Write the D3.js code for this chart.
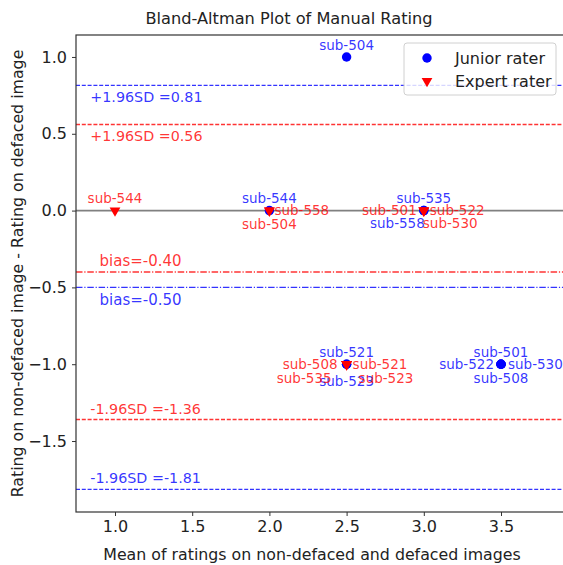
<!DOCTYPE html>
<html>
<head>
<meta charset="utf-8">
<script src="https://cdn.jsdelivr.net/npm/d3@7"></script>
<style>
  body { margin: 0; background: #fff; }
  svg { font-family: "DejaVu Sans", sans-serif; display: block; }
</style>
</head>
<body>
<div id="container"></div>
<script>
// ---------------------------- DATA ---------------------------- //
const juniorSubjects = ["sub-504", "sub-544", "sub-535", "sub-558", "sub-521", "sub-523", "sub-501", "sub-522", "sub-530", "sub-508"];
const juniorMean = [2.5, 2.0, 3.0, 3.0, 2.5, 2.5, 3.5, 3.5, 3.5, 3.5];
const juniorDiff = [1, 0, 0, 0, -1, -1, -1, -1, -1, -1];

const expertSubjects = ["sub-544", "sub-558", "sub-504", "sub-501", "sub-522", "sub-530", "sub-508", "sub-521", "sub-535", "sub-523"];
const expertMean = [1.0, 2.0, 2.0, 3.0, 3.0, 3.0, 2.5, 2.5, 2.5, 2.5];
const expertDiff = [0, 0, 0, 0, 0, 0, -1, -1, -1, -1];

const xTicks = [1.0, 1.5, 2.0, 2.5, 3.0, 3.5];
const yTicks = [1.0, 0.5, 0.0, -0.5, -1.0, -1.5];

// label placement around each point: [dx, dy, anchor] (pixels)
const juniorPlace = {
  "sub-504": [0, -12, "middle"], "sub-544": [0, -12, "middle"],
  "sub-535": [0, -12, "middle"], "sub-558": [1, 13, "end"],
  "sub-521": [0, -12, "middle"], "sub-523": [0, 17, "middle"],
  "sub-501": [0, -12, "middle"], "sub-522": [-7, 0, "end"],
  "sub-530": [7, 0, "start"], "sub-508": [0, 14, "middle"]
};
const expertPlace = {
  "sub-544": [0, -12, "middle"], "sub-558": [5, 0, "start"],
  "sub-504": [0, 14, "middle"], "sub-501": [-7, 0, "end"],
  "sub-522": [6, 0, "start"], "sub-530": [-1, 13, "start"],
  "sub-508": [-9, 0, "end"], "sub-521": [6, 0, "start"],
  "sub-535": [-15, 14, "end"], "sub-523": [12, 14, "start"]
};

// --------------------------- LAYOUT --------------------------- //
const W = 563, H = 565;
const pL = 76, pR = 564, pT = 35, pB = 512;
const BLUE = "rgba(0,0,255,0.8)", RED = "rgba(255,0,0,0.8)";

const svg = d3.select("#container").append("svg")
  .attr("width", W).attr("height", H);

const x = d3.scaleLinear().domain([0.7474, 3.908]).range([pL, pR]);
const y = d3.scaleLinear().domain([1.143, -1.962]).range([pT, pB]);

// --------------------------- STATS ---------------------------- //
function stats(vals) {
  const m = d3.mean(vals);
  const sd = Math.sqrt(d3.mean(vals, v => (v - m) * (v - m)));
  return { bias: m, up: m + 1.96 * sd, lo: m - 1.96 * sd };
}
const js = stats(juniorDiff), es = stats(expertDiff);

// ---------------------------- AXES ---------------------------- //
const fmt = v => d3.format(".1f")(v).replace("-", "\u2212");

svg.append("g")
  .attr("transform", "translate(0," + pB + ")")
  .call(d3.axisBottom(x).tickValues(xTicks).tickFormat(fmt).tickSize(4).tickPadding(5))
  .call(g => g.select(".domain").remove())
  .call(g => g.selectAll("text").attr("font-size", 16).attr("fill", "#222").attr("font-family", "DejaVu Sans"))
  .call(g => g.selectAll("line").attr("stroke", "#333"));

svg.append("g")
  .attr("transform", "translate(" + pL + ",0)")
  .call(d3.axisLeft(y).tickValues(yTicks).tickFormat(fmt).tickSize(4).tickPadding(5))
  .call(g => g.select(".domain").remove())
  .call(g => g.selectAll("text").attr("font-size", 16).attr("fill", "#222").attr("font-family", "DejaVu Sans"))
  .call(g => g.selectAll("line").attr("stroke", "#333"));

// zero line
svg.append("line")
  .attr("x1", pL).attr("x2", pR).attr("y1", y(0)).attr("y2", y(0))
  .attr("stroke", "#808080").attr("stroke-width", 1.6);

// ------------------------ REFERENCE LINES --------------------- //
function hline(v, color, dash) {
  svg.append("line")
    .attr("x1", pL).attr("x2", pR).attr("y1", y(v)).attr("y2", y(v))
    .attr("stroke", color).attr("stroke-width", 1.4)
    .attr("stroke-dasharray", dash);
}
function hlabel(xv, v, dy, txt, color, size) {
  svg.append("text")
    .attr("x", x(xv)).attr("y", y(v) + dy).attr("dy", "0.35em")
    .attr("fill", color).attr("font-size", size).text(txt);
}
const dashed = "4,1.8", dashdot = "6.5,1.8,1.2,1.8";
hline(js.up, BLUE, dashed);
hline(es.up, RED, dashed);
hline(es.bias, RED, dashdot);
hline(js.bias, BLUE, dashdot);
hline(es.lo, RED, dashed);
hline(js.lo, BLUE, dashed);

hlabel(0.84, js.up, 12, "+1.96SD =" + js.up.toFixed(2), BLUE, 14.3);
hlabel(0.84, es.up, 11, "+1.96SD =" + es.up.toFixed(2), RED, 14.3);
hlabel(0.9, es.bias, -11, "bias=" + es.bias.toFixed(2), RED, 15);
hlabel(0.9, js.bias, 12, "bias=" + js.bias.toFixed(2), BLUE, 15);
hlabel(0.84, es.lo, -11, "-1.96SD =" + es.lo.toFixed(2), RED, 14.3);
hlabel(0.84, js.lo, -11, "-1.96SD =" + js.lo.toFixed(2), BLUE, 14.3);

// --------------------------- POINTS --------------------------- //
const circle = d3.symbol().type(d3.symbolCircle).size(70);
const tri = d3.symbol().type(d3.symbolTriangle).size(50);

function drawSet(subjects, means, diffs, place, color, fill, sym, rot) {
  const data = subjects.map((s, i) => ({ s: s, m: means[i], d: diffs[i] }));
  const g = svg.append("g");
  g.selectAll("path").data(data).enter().append("path")
    .attr("d", sym)
    .attr("transform", d => "translate(" + x(d.m) + "," + y(d.d) + ") rotate(" + rot + ")")
    .attr("fill", fill);
  g.selectAll("text").data(data).enter().append("text")
    .attr("x", d => x(d.m) + place[d.s][0])
    .attr("y", d => y(d.d) + place[d.s][1])
    .attr("dy", "0.35em")
    .attr("text-anchor", d => place[d.s][2])
    .attr("font-size", 13.5)
    .attr("fill", color)
    .text(d => d.s);
}
drawSet(juniorSubjects, juniorMean, juniorDiff, juniorPlace, BLUE, "#0000ff", circle, 0);
drawSet(expertSubjects, expertMean, expertDiff, expertPlace, RED, "#ff0000", tri, 180);

// ---------------------------- FRAME --------------------------- //
svg.append("rect")
  .attr("x", pL).attr("y", pT).attr("width", pR - pL).attr("height", pB - pT)
  .attr("fill", "none").attr("stroke", "#333").attr("stroke-width", 1.2);

// --------------------------- LEGEND --------------------------- //
const lg = svg.append("g");
lg.append("rect")
  .attr("x", 404).attr("y", 43).attr("width", 152).attr("height", 52).attr("rx", 3)
  .attr("fill", "rgba(255,255,255,0.8)").attr("stroke", "#d0d0d0");
const legendItems = [["Junior rater", circle, "#0000ff", 0], ["Expert rater", tri, "#ff0000", 180]];
legendItems.forEach((it, i) => {
  const cy = 58 + i * 23;
  lg.append("path").attr("d", it[1])
    .attr("transform", "translate(427," + cy + ") rotate(" + it[3] + ")")
    .attr("fill", it[2]);
  lg.append("text").attr("x", 455).attr("y", cy).attr("dy", "0.35em")
    .attr("font-size", 16).attr("fill", "#222").text(it[0]);
});

// --------------------------- TITLES --------------------------- //
svg.append("text")
  .attr("x", 289).attr("y", 18).attr("dy", "0.35em")
  .attr("text-anchor", "middle").attr("font-size", 16.2).attr("fill", "#222")
  .text("Bland-Altman Plot of Manual Rating");

svg.append("text")
  .attr("x", 312).attr("y", 554).attr("dy", "0.35em")
  .attr("text-anchor", "middle").attr("font-size", 15.8).attr("fill", "#222")
  .text("Mean of ratings on non-defaced and defaced images");

svg.append("text")
  .attr("transform", "translate(17," + ((pT + pB) / 2) + ") rotate(-90)")
  .attr("dy", "0.35em")
  .attr("text-anchor", "middle").attr("font-size", 15.8).attr("fill", "#222")
  .text("Rating on non-defaced image - Rating on defaced image");
</script>
</body>
</html>
